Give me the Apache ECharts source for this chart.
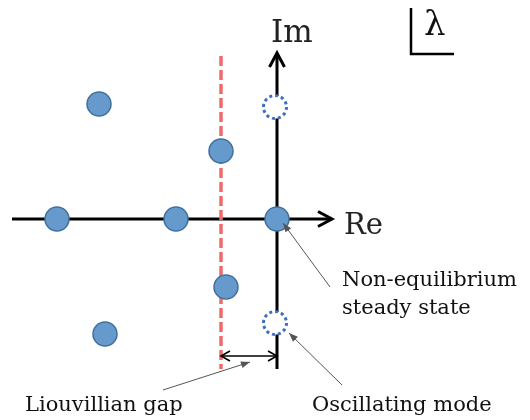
<!DOCTYPE html>
<html>
<head>
<meta charset="utf-8">
<script src="https://cdn.jsdelivr.net/npm/echarts@6/dist/echarts.min.js"></script>
<style>html,body{margin:0;padding:0;background:#fff;}#c{width:530px;height:420px;}</style>
</head>
<body>
<div id="c"></div>
<script>
// Eigenvalues (Re, Im) in arbitrary units
const eigRe = [-8.9, -2.8, -11.0, -5.05, 0, -2.55, -8.6];
const eigIm = [5.75, 3.4, 0, 0, 0, -3.4, -5.75];
// Oscillating modes (dotted circles)
const oscRe = [-0.1, -0.1];
const oscIm = [5.6, -5.2];
// Liouvillian gap position
const gapRe = -2.8;
// Axis extents
const reAxisRange = [-13.25, 2.75];
const imAxisRange = [-7.5, 8.3];
const gapLineRange = [-7.5, 8.15];
const gapArrowIm = -6.85;
// Annotation pointers [fromRe, fromIm, toRe, toIm]
const pointers = [
  [2.65, -3.4, 0.3, -0.2],
  [3.25, -8.3, 0.6, -5.7],
  [-5.7, -8.55, -1.35, -7.15]
];
// Texts
const labelRe = 'Re', labelIm = 'Im', labelLambda = 'λ';
const labelNess = ['Non-equilibrium', 'steady state'];
const labelGap = 'Liouvillian gap';
const labelOsc = 'Oscillating mode';

const chart = echarts.init(document.getElementById('c'));
const serif = '"DejaVu Serif", "Liberation Serif", serif';

function makeSeg(api, headStart, headEnd, kind, style) {
  const p1 = api.coord([api.value(0), api.value(1)]);
  const p2 = api.coord([api.value(2), api.value(3)]);
  let dx = p2[0] - p1[0], dy = p2[1] - p1[1];
  const len = Math.sqrt(dx * dx + dy * dy) || 1;
  dx /= len; dy /= len;
  const nx = -dy, ny = dx;
  const children = [{
    type: 'line',
    shape: {x1: p1[0], y1: p1[1], x2: p2[0], y2: p2[1]},
    style: style
  }];
  function head(tip, ddx, ddy) {
    const L = kind.L, W = kind.W;
    const a1 = [tip[0] - ddx * L + nx * W, tip[1] - ddy * L + ny * W];
    const a2 = [tip[0] - ddx * L - nx * W, tip[1] - ddy * L - ny * W];
    if (kind.type === 'chevron') {
      children.push({type: 'polyline', shape: {points: [a1, tip, a2]},
        style: {stroke: style.stroke, lineWidth: style.lineWidth, fill: null, lineJoin: 'miter'}});
    } else {
      children.push({type: 'polygon', shape: {points: [a1, tip, a2]},
        style: {fill: style.stroke, stroke: null}});
    }
  }
  if (headEnd) head(p2, dx, dy);
  if (headStart) head(p1, -dx, -dy);
  return {type: 'group', children: children};
}

const option = {
  animation: false,
  grid: {left: 0, right: 0, top: 0, bottom: 0},
  xAxis: {type: 'value', min: -13.85, max: 12.65, show: false},
  yAxis: {type: 'value', min: -10.05, max: 10.95, show: false},
  series: [
    {
      type: 'custom', coordinateSystem: 'cartesian2d', clip: false, silent: true, z: 2,
      data: [[reAxisRange[0], 0, reAxisRange[1], 0], [0, imAxisRange[0], 0, imAxisRange[1]]],
      renderItem: function (params, api) {
        return makeSeg(api, false, true, {type: 'chevron', L: 14, W: 7.5},
          {stroke: '#000', lineWidth: 3});
      }
    },
    {
      type: 'custom', coordinateSystem: 'cartesian2d', clip: false, silent: true, z: 3,
      data: [[gapRe, gapLineRange[1], gapRe, gapLineRange[0]]],
      renderItem: function (params, api) {
        return makeSeg(api, false, false, {type: 'none'},
          {stroke: '#ef6b6b', lineWidth: 3.5, lineDash: [10, 4]});
      }
    },
    {
      type: 'custom', coordinateSystem: 'cartesian2d', clip: false, silent: true, z: 3,
      data: [[gapRe, gapArrowIm, 0, gapArrowIm]],
      renderItem: function (params, api) {
        return makeSeg(api, true, true, {type: 'chevron', L: 9, W: 5},
          {stroke: '#000', lineWidth: 1.6});
      }
    },
    {
      type: 'custom', coordinateSystem: 'cartesian2d', clip: false, silent: true, z: 5,
      data: pointers,
      renderItem: function (params, api) {
        return makeSeg(api, false, true, {type: 'triangle', L: 9, W: 3.5},
          {stroke: '#555', lineWidth: 1});
      }
    },
    {
      type: 'scatter', z: 4, symbol: 'circle', symbolSize: 24, silent: true,
      data: eigRe.map((r, i) => [r, eigIm[i]]),
      itemStyle: {color: '#6699cc', borderColor: '#41719c', borderWidth: 1.5, opacity: 1}
    },
    {
      type: 'scatter', z: 4, symbol: 'circle', symbolSize: 23, silent: true,
      data: oscRe.map((r, i) => [r, oscIm[i]]),
      itemStyle: {color: '#fff', borderColor: '#3f6fbf', borderWidth: 3, borderType: [3, 3], opacity: 1}
    }
  ],
  graphic: [
    {type: 'text', left: 271, top: 18, style: {text: labelIm, font: '31px ' + serif, fill: '#222'}},
    {type: 'text', left: 344, top: 212, style: {text: labelRe, font: '29px ' + serif, fill: '#222'}},
    {type: 'text', left: 342, top: 270, style: {text: labelNess[0], font: '21px ' + serif, fill: '#111'}},
    {type: 'text', left: 342, top: 298, style: {text: labelNess[1], font: '21px ' + serif, fill: '#111'}},
    {type: 'text', left: 25, top: 395, style: {text: labelGap, font: '21px ' + serif, fill: '#111'}},
    {type: 'text', left: 312, top: 395, style: {text: labelOsc, font: '21px ' + serif, fill: '#111'}},
    {type: 'polyline', shape: {points: [[411, 8], [411, 54], [454, 54]]},
      style: {stroke: '#000', lineWidth: 2.5, fill: null}},
    {type: 'text', left: 424, top: 9, style: {text: labelLambda, font: '34px ' + serif, fill: '#111'}}
  ]
};
chart.setOption(option);
</script>
</body>
</html>
